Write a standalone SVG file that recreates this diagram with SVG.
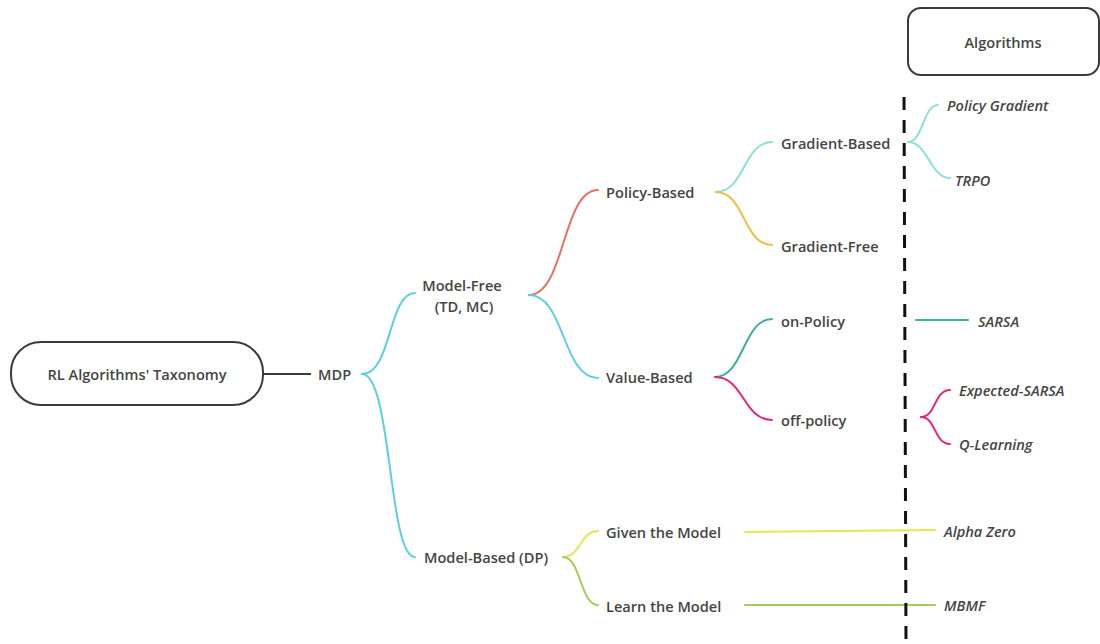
<svg xmlns="http://www.w3.org/2000/svg" width="1100" height="644" viewBox="0 0 1100 644">
<style>
.t{font-family:"Open Sans","Liberation Sans",sans-serif;font-weight:600;font-size:14.6px;fill:#454545;dominant-baseline:central}
.i{font-style:italic}
.c{fill:none;stroke-width:2;stroke-linecap:round}
.box{fill:#fff;stroke:#3a3a3a;stroke-width:2}
</style>
<rect width="1100" height="644" fill="#fff"/>
<g id="connectors">
<line x1="263" y1="374" x2="311" y2="374" stroke="#3a3a3a" stroke-width="2"/>
<path class="c" stroke="#5ccfe0" d="M362 374 C392 374,388 293,415 293"/>
<path class="c" stroke="#5ccfe0" d="M362 374 C392 374,388 557,415 557"/>
<path class="c" stroke="#e8705f" d="M529 295 C565 295,562 190,598 190"/>
<path class="c" stroke="#5ccfe0" d="M529 295 C565 295,562 378,598 378"/>
<path class="c" stroke="#8edfd6" d="M716 192 C745 192,743 142,772 142"/>
<path class="c" stroke="#ecc244" d="M716 192 C745 192,743 245,772 245"/>
<path class="c" stroke="#3bb0a0" d="M715 377 C744 377,743 319,772 319"/>
<path class="c" stroke="#e0287a" d="M715 377 C744 377,743 420,772 420"/>
<path class="c" stroke="#e6e650" d="M563 557 C581 557,580 531,598 531"/>
<path class="c" stroke="#a6cc55" d="M563 557 C581 557,580 605,598 605"/>
<path class="c" stroke="#8edfd6" d="M908 142 C923 142,923 105,938 105"/>
<path class="c" stroke="#8edfd6" d="M908 142 C928 142,930 178,950 178"/>
<line class="c" stroke="#3bb0a0" x1="916" y1="320" x2="968" y2="320"/>
<path class="c" stroke="#e0287a" d="M921 417 C936 417,934 390,950 390"/>
<path class="c" stroke="#e0287a" d="M921 417 C936 417,934 444,950 444"/>
<line class="c" stroke="#e6e650" x1="745" y1="532" x2="935" y2="530"/>
<line class="c" stroke="#a6cc55" x1="745" y1="605" x2="935" y2="605"/>
<line x1="904" y1="97" x2="906" y2="642" stroke="#111" stroke-width="3" stroke-dasharray="13 10"/>
</g>
<g id="n-root"><rect class="box" x="11" y="342" width="252" height="63" rx="30"/><text class="t" x="137" y="374" text-anchor="middle">RL Algorithms' Taxonomy</text></g>
<g id="n-algos"><rect class="box" x="908" y="8" width="191" height="67" rx="13"/><text class="t" x="1003" y="42" text-anchor="middle">Algorithms</text></g>
<g id="n-mdp"><text class="t" x="318" y="374">MDP</text></g>
<g id="n-mf"><text class="t" x="462" y="285" text-anchor="middle">Model-Free</text><text class="t" x="464" y="306" text-anchor="middle">(TD, MC)</text></g>
<g id="n-mb"><text class="t" x="424" y="557">Model-Based (DP)</text></g>
<g id="n-pb"><text class="t" x="606" y="192">Policy-Based</text></g>
<g id="n-vb"><text class="t" x="606" y="377">Value-Based</text></g>
<g id="n-given"><text class="t" x="606" y="532">Given the Model</text></g>
<g id="n-learn"><text class="t" x="606" y="606">Learn the Model</text></g>
<g id="n-gb"><text class="t" x="781" y="143">Gradient-Based</text></g>
<g id="n-gf"><text class="t" x="781" y="246">Gradient-Free</text></g>
<g id="n-on"><text class="t" x="781" y="321">on-Policy</text></g>
<g id="n-off"><text class="t" x="781" y="420">off-policy</text></g>
<g id="n-pg"><text class="t i" x="947" y="105">Policy Gradient</text></g>
<g id="n-trpo"><text class="t i" x="955" y="180">TRPO</text></g>
<g id="n-sarsa"><text class="t i" x="978" y="321">SARSA</text></g>
<g id="n-esarsa"><text class="t i" x="959" y="390">Expected-SARSA</text></g>
<g id="n-ql"><text class="t i" x="959" y="444">Q-Learning</text></g>
<g id="n-az"><text class="t i" x="944" y="531">Alpha Zero</text></g>
<g id="n-mbmf"><text class="t i" x="944" y="605">MBMF</text></g>
</svg>
